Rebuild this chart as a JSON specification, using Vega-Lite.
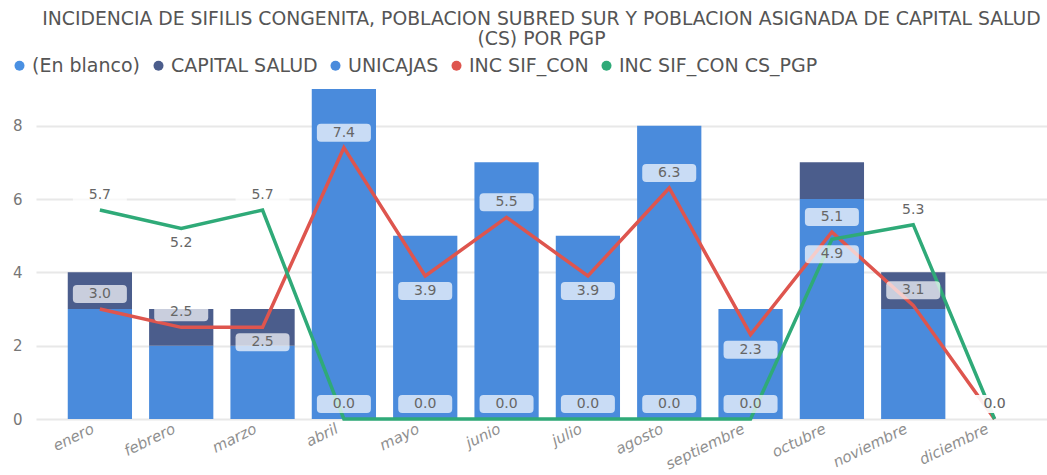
{
  "$schema": "https://vega.github.io/schema/vega-lite/v6.json",
  "autosize": {"type": "none"},
  "padding": {"left": 36, "top": 89, "right": 0, "bottom": 56},
  "width": 1011,
  "height": 330,
  "background": "white",
  "config": {
    "view": {"stroke": null},
    "font": "DejaVu Sans",
    "axis": {"labelFont": "DejaVu Sans"},
    "legend": {"labelFont": "DejaVu Sans"}
  },
  "title": {
    "text": ["INCIDENCIA DE SIFILIS CONGENITA, POBLACION SUBRED SUR Y POBLACION ASIGNADA DE CAPITAL SALUD", "(CS) POR PGP"],
    "font": "DejaVu Sans",
    "fontSize": 18.8,
    "fontWeight": "normal",
    "color": "#555555",
    "anchor": "middle",
    "lineHeight": 20,
    "offset": 7
  },
  "datasets": {
    "barras": [
      {"mes": "enero", "serie": "UNICAJAS", "valor": 3},
      {"mes": "enero", "serie": "CAPITAL SALUD", "valor": 1},
      {"mes": "febrero", "serie": "UNICAJAS", "valor": 2},
      {"mes": "febrero", "serie": "CAPITAL SALUD", "valor": 1},
      {"mes": "marzo", "serie": "UNICAJAS", "valor": 2},
      {"mes": "marzo", "serie": "CAPITAL SALUD", "valor": 1},
      {"mes": "abril", "serie": "UNICAJAS", "valor": 9},
      {"mes": "abril", "serie": "CAPITAL SALUD", "valor": 0},
      {"mes": "mayo", "serie": "UNICAJAS", "valor": 5},
      {"mes": "mayo", "serie": "CAPITAL SALUD", "valor": 0},
      {"mes": "junio", "serie": "UNICAJAS", "valor": 7},
      {"mes": "junio", "serie": "CAPITAL SALUD", "valor": 0},
      {"mes": "julio", "serie": "UNICAJAS", "valor": 5},
      {"mes": "julio", "serie": "CAPITAL SALUD", "valor": 0},
      {"mes": "agosto", "serie": "UNICAJAS", "valor": 8},
      {"mes": "agosto", "serie": "CAPITAL SALUD", "valor": 0},
      {"mes": "septiembre", "serie": "UNICAJAS", "valor": 3},
      {"mes": "septiembre", "serie": "CAPITAL SALUD", "valor": 0},
      {"mes": "octubre", "serie": "UNICAJAS", "valor": 6},
      {"mes": "octubre", "serie": "CAPITAL SALUD", "valor": 1},
      {"mes": "noviembre", "serie": "UNICAJAS", "valor": 3},
      {"mes": "noviembre", "serie": "CAPITAL SALUD", "valor": 1},
      {"mes": "diciembre", "serie": "UNICAJAS", "valor": 0},
      {"mes": "diciembre", "serie": "CAPITAL SALUD", "valor": 0}
    ],
    "lineas": [
      {"mes": "enero", "inc": 3.0, "inc_cs": 5.7},
      {"mes": "febrero", "inc": 2.5, "inc_cs": 5.2},
      {"mes": "marzo", "inc": 2.5, "inc_cs": 5.7},
      {"mes": "abril", "inc": 7.4, "inc_cs": 0.0},
      {"mes": "mayo", "inc": 3.9, "inc_cs": 0.0},
      {"mes": "junio", "inc": 5.5, "inc_cs": 0.0},
      {"mes": "julio", "inc": 3.9, "inc_cs": 0.0},
      {"mes": "agosto", "inc": 6.3, "inc_cs": 0.0},
      {"mes": "septiembre", "inc": 2.3, "inc_cs": 0.0},
      {"mes": "octubre", "inc": 5.1, "inc_cs": 4.9},
      {"mes": "noviembre", "inc": 3.1, "inc_cs": 5.3},
      {"mes": "diciembre", "inc": 0.0, "inc_cs": 0.0}
    ]
  },
  "encoding": {
    "x": {
      "field": "mes",
      "type": "nominal",
      "scale": {
        "domain": ["enero", "febrero", "marzo", "abril", "mayo", "junio", "julio", "agosto", "septiembre", "octubre", "noviembre", "diciembre"],
        "paddingInner": 0.21,
        "paddingOuter": 0.32,
        "align": 0.61
      },
      "axis": {
        "title": null,
        "domain": false,
        "ticks": false,
        "labelAngle": -26,
        "labelFontSize": 15,
        "labelFontStyle": "italic",
        "labelColor": "#8f8f8f",
        "labelPadding": 2,
        "labelOffset": -10
      }
    }
  },
  "layer": [
    {
      "data": {"name": "barras"},
      "mark": {"type": "bar"},
      "encoding": {
        "y": {
          "field": "valor",
          "type": "quantitative",
          "stack": "zero",
          "scale": {"domain": [0, 9], "nice": false},
          "axis": {
            "title": null,
            "values": [0, 2, 4, 6, 8],
            "domain": false,
            "ticks": false,
            "grid": true,
            "gridColor": "#e8e8e8",
            "gridWidth": 2,
            "labelFontSize": 15,
            "labelColor": "#777777",
            "labelPadding": 14
          }
        },
        "color": {
          "field": "serie",
          "type": "nominal",
          "scale": {
            "domain": ["(En blanco)", "CAPITAL SALUD", "UNICAJAS", "INC SIF_CON", "INC SIF_CON CS_PGP"],
            "range": ["#4a90e2", "#4b5d8c", "#4a8bdc", "#de554e", "#2faa78"]
          },
          "legend": {
            "title": null,
            "orient": "none",
            "legendX": -26,
            "legendY": -33,
            "direction": "horizontal",
            "symbolType": "circle",
            "symbolSize": 100,
            "labelFontSize": 19,
            "labelLimit": 0,
            "labelColor": "#555555",
            "labelOffset": 3,
            "columnPadding": 8,
            "encode": {
              "symbols": {
                "update": {
                  "fill": {"scale": "color", "field": "value"},
                  "fillOpacity": {"value": 1},
                  "strokeWidth": {"value": 0}
                }
              }
            }
          }
        },
        "order": {"field": "serie", "sort": "descending"}
      }
    },
    {
      "data": {"name": "lineas"},
      "mark": {"type": "line", "strokeWidth": 3.5, "strokeJoin": "miter"},
      "encoding": {
        "y": {"field": "inc", "type": "quantitative"},
        "color": {"datum": "INC SIF_CON"}
      }
    },
    {
      "data": {"name": "lineas"},
      "mark": {"type": "line", "strokeWidth": 3.5, "strokeJoin": "miter"},
      "encoding": {
        "y": {"field": "inc_cs", "type": "quantitative"},
        "color": {"datum": "INC SIF_CON CS_PGP"}
      }
    },
    {
      "data": {"name": "lineas"},
      "transform": [{"filter": {"field": "mes", "oneOf": ["enero", "febrero", "abril", "junio", "agosto", "octubre", "noviembre", "diciembre"]}}],
      "layer": [
        {
          "mark": {"type": "point", "shape": "M-0.85,-0.333L0.85,-0.333Q1,-0.333 1,-0.185L1,0.185Q1,0.333 0.85,0.333L-0.85,0.333Q-1,0.333 -1,0.185L-1,-0.185Q-1,-0.333 -0.85,-0.333Z", "size": 2916, "filled": true, "fill": "white", "fillOpacity": 0.7, "strokeWidth": 0, "yOffset": -15},
          "encoding": {"y": {"field": "inc", "type": "quantitative"}}
        },
        {
          "mark": {"type": "text", "fontSize": 14, "color": "#666666", "baseline": "middle", "dy": -15},
          "encoding": {"y": {"field": "inc", "type": "quantitative"}, "text": {"field": "inc", "type": "quantitative", "format": ".1f"}}
        }
      ]
    },
    {
      "data": {"name": "lineas"},
      "transform": [{"filter": {"field": "mes", "oneOf": ["marzo", "mayo", "julio", "septiembre"]}}],
      "layer": [
        {
          "mark": {"type": "point", "shape": "M-0.85,-0.333L0.85,-0.333Q1,-0.333 1,-0.185L1,0.185Q1,0.333 0.85,0.333L-0.85,0.333Q-1,0.333 -1,0.185L-1,-0.185Q-1,-0.333 -0.85,-0.333Z", "size": 2916, "filled": true, "fill": "white", "fillOpacity": 0.7, "strokeWidth": 0, "yOffset": 15},
          "encoding": {"y": {"field": "inc", "type": "quantitative"}}
        },
        {
          "mark": {"type": "text", "fontSize": 14, "color": "#666666", "baseline": "middle", "dy": 15},
          "encoding": {"y": {"field": "inc", "type": "quantitative"}, "text": {"field": "inc", "type": "quantitative", "format": ".1f"}}
        }
      ]
    },
    {
      "data": {"name": "lineas"},
      "transform": [{"filter": {"field": "mes", "oneOf": ["enero", "marzo", "abril", "mayo", "junio", "julio", "agosto", "septiembre", "noviembre", "diciembre"]}}],
      "layer": [
        {
          "mark": {"type": "point", "shape": "M-0.85,-0.333L0.85,-0.333Q1,-0.333 1,-0.185L1,0.185Q1,0.333 0.85,0.333L-0.85,0.333Q-1,0.333 -1,0.185L-1,-0.185Q-1,-0.333 -0.85,-0.333Z", "size": 2916, "filled": true, "fill": "white", "fillOpacity": 0.7, "strokeWidth": 0, "yOffset": -15},
          "encoding": {"y": {"field": "inc_cs", "type": "quantitative"}}
        },
        {
          "mark": {"type": "text", "fontSize": 14, "color": "#666666", "baseline": "middle", "dy": -15},
          "encoding": {"y": {"field": "inc_cs", "type": "quantitative"}, "text": {"field": "inc_cs", "type": "quantitative", "format": ".1f"}}
        }
      ]
    },
    {
      "data": {"name": "lineas"},
      "transform": [{"filter": {"field": "mes", "oneOf": ["febrero", "octubre"]}}],
      "layer": [
        {
          "mark": {"type": "point", "shape": "M-0.85,-0.333L0.85,-0.333Q1,-0.333 1,-0.185L1,0.185Q1,0.333 0.85,0.333L-0.85,0.333Q-1,0.333 -1,0.185L-1,-0.185Q-1,-0.333 -0.85,-0.333Z", "size": 2916, "filled": true, "fill": "white", "fillOpacity": 0.7, "strokeWidth": 0, "yOffset": 15},
          "encoding": {"y": {"field": "inc_cs", "type": "quantitative"}}
        },
        {
          "mark": {"type": "text", "fontSize": 14, "color": "#666666", "baseline": "middle", "dy": 15},
          "encoding": {"y": {"field": "inc_cs", "type": "quantitative"}, "text": {"field": "inc_cs", "type": "quantitative", "format": ".1f"}}
        }
      ]
    }
  ]
}
